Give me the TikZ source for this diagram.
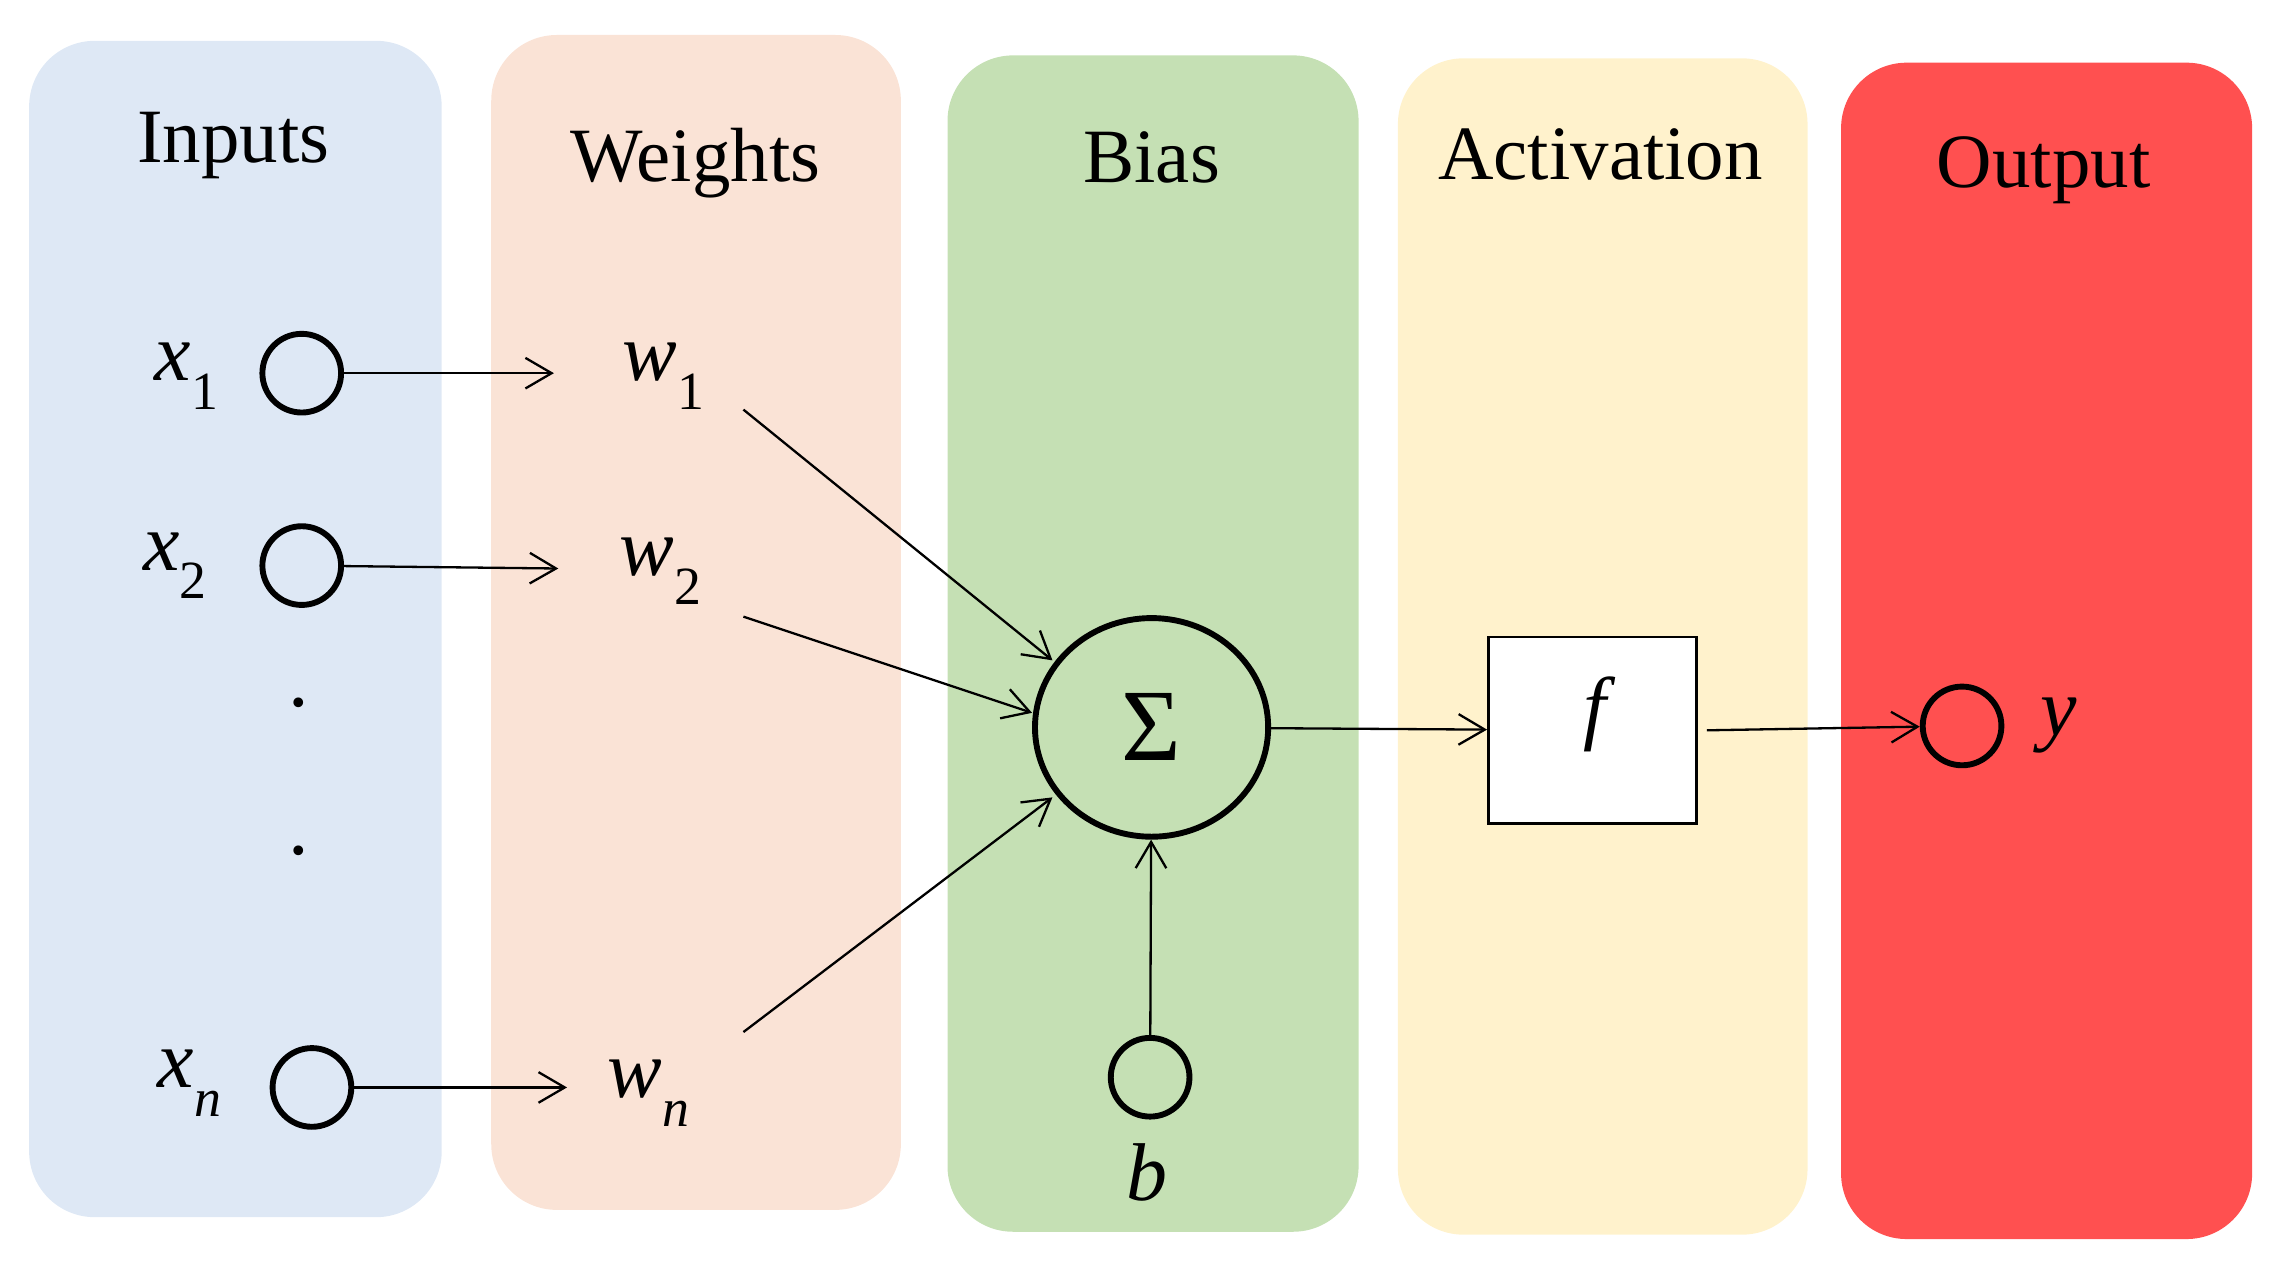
\documentclass[tikz,border=0pt]{standalone}
\usepackage{fontspec}
\setmainfont{Liberation Serif}
\usetikzlibrary{arrows.meta,shapes.geometric}
\newcommand{\lab}[2]{{\itshape #1}\raisebox{-0.35em}{\fontsize{21}{21}\selectfont #2}}
\begin{document}
\begin{tikzpicture}[x=0.02cm,y=-0.02cm,
  panel/.style={rounded corners=0.9cm},
  title/.style={font=\fontsize{30}{30}\selectfont},
  lbl/.style={font=\fontsize{32}{32}\selectfont},
  neuron/.style={circle,draw,line width=2.3pt,minimum size=1.08cm,inner sep=0},
  arr/.style={-{Straight Barb[length=0.36cm,width=0.42cm,line width=0.9pt]},line width=0.9pt}]
\useasboundingbox (0,0) rectangle (1560,866);
\fill[panel,fill={rgb,255:red,222;green,232;blue,245}] (20,28) rectangle (303,835);
\fill[panel,fill={rgb,255:red,250;green,227;blue,214}] (337,24) rectangle (618,830);
\fill[panel,fill={rgb,255:red,197;green,224;blue,180}] (650,38) rectangle (932,845);
\fill[panel,fill={rgb,255:red,255;green,242;blue,204}] (959,40) rectangle (1240,847);
\fill[panel,fill={rgb,255:red,255;green,80;blue,80}] (1263,43) rectangle (1545,850);
\node[title] (tin) at (160,100) {Inputs};
\node[title] (tw) at (477,112) {Weights};
\node[title] (tb) at (790,108) {Bias};
\node[title] (ta) at (1098,106) {Activation};
\node[title] (to) at (1402,117) {Output};
\node[neuron] (c1) at (207,256) {};
\node[neuron] (c2) at (207,388) {};
\node[neuron] (cn) at (214,746) {};
\node[lbl] (x1) at (128,258) {\lab{x}{1}};
\node[lbl] (x2) at (120,388) {\lab{x}{2}};
\node[lbl] (xn) at (130,743) {\lab{x}{\itshape n}};
\node[lbl] (d1) at (205,482) {.};
\node[lbl] (d2) at (205,584) {.};
\node[lbl] (w1) at (455,258) {\lab{w}{1}};
\node[lbl] (w2) at (453,392) {\lab{w}{2}};
\node[lbl] (wn) at (445,750) {\lab{w}{\itshape n}};
\coordinate (a1) at (380,256);
\coordinate (a2) at (383,390);
\coordinate (an) at (389,746);
\draw[arr] (c1) -- (a1);
\draw[arr] (c2) -- (a2);
\draw[arr] (cn) -- (an);
\node[ellipse,draw,line width=2.3pt,minimum width=3.2cm,minimum height=3.0cm,inner sep=0,font=\fontsize{40}{40}\selectfont] (s) at (790,499) {Σ};
\coordinate (l1) at (510,281);
\coordinate (l2) at (510,423);
\coordinate (ln) at (510,708);
\coordinate (s1) at (722,453);
\coordinate (s2) at (708,489);
\coordinate (sn) at (722,547);
\draw[arr] (l1) -- (s1);
\draw[arr] (l2) -- (s2);
\draw[arr] (ln) -- (sn);
\node[neuron] (cb) at (789,739) {};
\node[lbl] (b) at (787,804) {\itshape b};
\draw[arr] (cb) -- (s);
\node[draw,fill=white,line width=1pt,minimum width=2.86cm,minimum height=2.56cm] (f) at (1092.5,501) {};
\node[lbl] (fl) at (1094,490) {\itshape f};
\draw[arr] (s) -- (f);
\node[neuron] (cy) at (1346,498) {};
\node[lbl] (y) at (1412,498) {\itshape y};
\draw[arr] (f.east) ++(6,0) coordinate (fe) -- (cy);
\end{tikzpicture}
\end{document}
